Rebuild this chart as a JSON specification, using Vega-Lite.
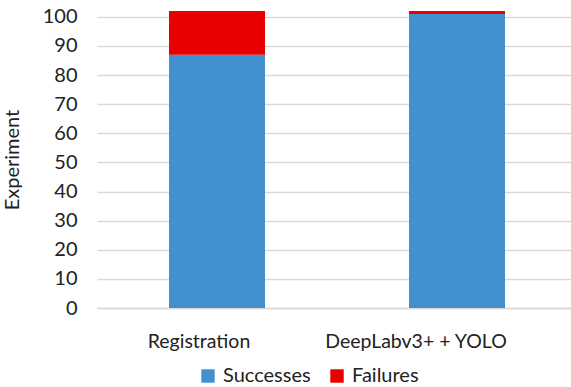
{
  "$schema": "https://vega.github.io/schema/vega-lite/v6.json",
  "autosize": {"type": "none"},
  "width": 480,
  "height": 297,
  "padding": {"left": 97, "top": 11, "right": 0, "bottom": 79},
  "background": "white",
  "data": {"values": [
    {"method": "Registration", "outcome": "Successes", "count": 87, "order": 1},
    {"method": "Registration", "outcome": "Failures", "count": 15, "order": 2},
    {"method": "DeepLabv3+ + YOLO", "outcome": "Successes", "count": 101, "order": 1},
    {"method": "DeepLabv3+ + YOLO", "outcome": "Failures", "count": 1, "order": 2}
  ]},
  "mark": {"type": "bar"},
  "encoding": {
    "x": {
      "field": "method", "type": "nominal", "sort": ["Registration", "DeepLabv3+ + YOLO"],
      "scale": {"paddingInner": 0.6, "paddingOuter": 0.3},
      "axis": {"title": null, "labelAngle": 0, "labelFont": "Lato", "labelFontSize": 19.5, "labelColor": "#222", "labelPadding": 24, "labelLimit": 0,
        "labelOffset": {"condition": {"test": "datum.value === 'Registration'", "value": -18}, "value": -41},
        "ticks": false, "domainColor": "#d9d9d9", "domainWidth": 1.5}
    },
    "y": {
      "field": "count", "type": "quantitative", "stack": "zero",
      "scale": {"domain": [0, 102], "nice": false},
      "axis": {"title": "Experiment", "titleFont": "Lato", "titleFontSize": 20, "titleFontWeight": "normal", "titleColor": "#222", "titlePadding": 20,
        "values": [0, 10, 20, 30, 40, 50, 60, 70, 80, 90, 100], "labelFont": "Lato", "labelFontSize": 20, "labelColor": "#222", "labelPadding": 20,
        "ticks": false, "domain": false, "gridColor": "#d9d9d9", "gridWidth": 1.5}
    },
    "color": {
      "field": "outcome", "type": "nominal",
      "scale": {"domain": ["Successes", "Failures"], "range": ["#4290CF", "#E80000"]},
      "legend": {"title": null, "orient": "none", "direction": "horizontal", "legendX": 101, "legendY": 355,
        "symbolType": "square", "symbolSize": 180, "symbolStrokeWidth": 0, "labelFont": "Lato", "labelFontSize": 20, "labelColor": "#222", "columnPadding": 16, "labelOffset": 5}
    },
    "order": {"field": "order", "type": "quantitative"}
  },
  "config": {"view": {"stroke": null}}
}
